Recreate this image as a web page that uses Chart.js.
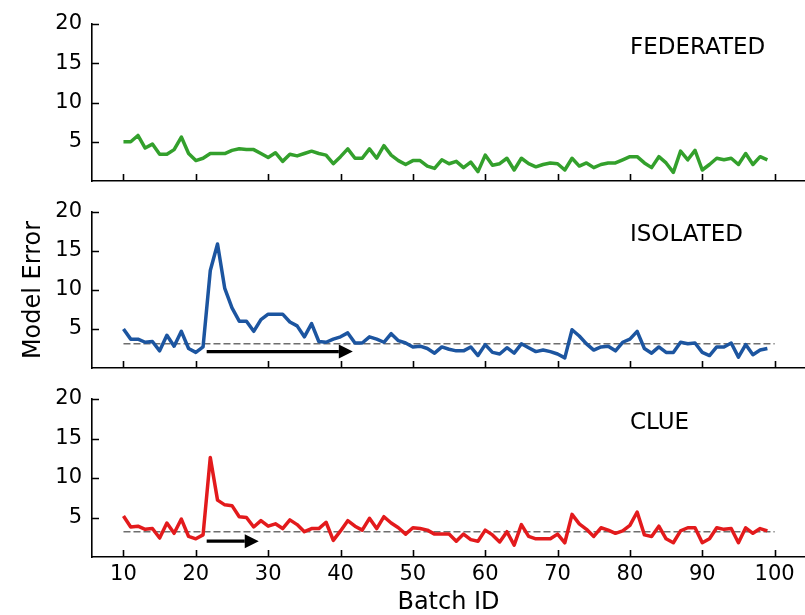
<!DOCTYPE html>
<html>
<head>
<meta charset="utf-8">
<script src="https://cdn.jsdelivr.net/npm/chart.js@4.4.1/dist/chart.umd.min.js"></script>
<style>
  html, body { margin: 0; padding: 0; background: #fff; }
  #wrap { position: relative; width: 805px; height: 615px; overflow: hidden; }
  canvas { position: absolute; left: 0; }
</style>
</head>
<body>
<div id="wrap">
  <canvas id="fed" width="805" height="190" style="top:0px"></canvas>
  <canvas id="iso" width="805" height="190" style="top:190px"></canvas>
  <canvas id="clue" width="805" height="235" style="top:380px"></canvas>
</div>
<script>
// batch ids on the x axis
const batchIds = [10, 11, 12, 13, 14, 15, 16, 17, 18, 19,
  20, 21, 22, 23, 24, 25, 26, 27, 28, 29,
  30, 31, 32, 33, 34, 35, 36, 37, 38, 39,
  40, 41, 42, 43, 44, 45, 46, 47, 48, 49,
  50, 51, 52, 53, 54, 55, 56, 57, 58, 59,
  60, 61, 62, 63, 64, 65, 66, 67, 68, 69,
  70, 71, 72, 73, 74, 75, 76, 77, 78, 79,
  80, 81, 82, 83, 84, 85, 86, 87, 88, 89,
  90, 91, 92, 93, 94, 95, 96, 97, 98, 99];

const federated = [5.0, 5.0, 5.8, 4.2, 4.7, 3.4, 3.4, 4.0, 5.6, 3.5,
  2.6, 2.9, 3.5, 3.5, 3.5, 3.9, 4.1, 4.0, 4.0, 3.5,
  3.0, 3.6, 2.5, 3.4, 3.2, 3.5, 3.8, 3.5, 3.3, 2.2,
  3.1, 4.1, 2.9, 2.9, 4.1, 2.9, 4.5, 3.3, 2.6, 2.1,
  2.6, 2.6, 1.9, 1.6, 2.7, 2.2, 2.5, 1.7, 2.4, 1.2,
  3.3, 2.0, 2.2, 2.9, 1.4, 2.9, 2.2, 1.8, 2.1, 2.3,
  2.2, 1.4, 2.9, 1.9, 2.3, 1.7, 2.1, 2.3, 2.3, 2.7,
  3.1, 3.1, 2.3, 1.7, 3.1, 2.3, 1.1, 3.8, 2.7, 3.9,
  1.4, 2.1, 2.9, 2.7, 2.9, 2.1, 3.5, 2.1, 3.1, 2.7];

const isolated = [5.0, 3.7, 3.7, 3.3, 3.4, 2.2, 4.2, 2.8, 4.7, 2.5,
  2.0, 2.7, 12.5, 15.9, 10.2, 7.7, 6.0, 6.0, 4.7, 6.2,
  6.9, 6.9, 6.9, 5.9, 5.4, 4.0, 5.7, 3.4, 3.3, 3.7,
  4.0, 4.5, 3.2, 3.2, 4.0, 3.7, 3.3, 4.4, 3.5, 3.2,
  2.7, 2.8, 2.5, 1.9, 2.7, 2.4, 2.2, 2.2, 2.7, 1.6,
  3.0, 2.0, 1.8, 2.6, 1.9, 3.1, 2.6, 2.1, 2.3, 2.1,
  1.8, 1.3, 4.9, 4.1, 3.1, 2.3, 2.7, 2.8, 2.2, 3.3,
  3.7, 4.7, 2.5, 1.9, 2.7, 2.0, 2.0, 3.3, 3.1, 3.2,
  2.0, 1.6, 2.7, 2.7, 3.2, 1.4, 3.0, 1.7, 2.3, 2.5];

const clue = [5.2, 3.8, 3.9, 3.5, 3.6, 2.4, 4.3, 3.0, 4.8, 2.6,
  2.3, 2.8, 12.6, 7.2, 6.6, 6.5, 5.1, 5.0, 3.8, 4.6,
  3.9, 4.2, 3.6, 4.7, 4.1, 3.2, 3.6, 3.6, 4.4, 2.1,
  3.3, 4.6, 3.9, 3.4, 4.9, 3.6, 5.1, 4.3, 3.7, 2.9,
  3.7, 3.6, 3.4, 2.9, 2.9, 2.9, 2.0, 2.9, 2.2, 2.0,
  3.4, 2.8, 1.9, 3.2, 1.5, 4.1, 2.6, 2.3, 2.3, 2.3,
  2.9, 1.8, 5.4, 4.2, 3.5, 2.6, 3.7, 3.4, 3.0, 3.3,
  4.0, 5.7, 2.8, 2.6, 3.9, 2.3, 1.8, 3.3, 3.7, 3.7,
  1.8, 2.3, 3.7, 3.5, 3.6, 1.8, 3.7, 3.0, 3.6, 3.3];

// dashed reference level: [x start, x end, y]
const isoLevel = [10, 100, 3.1];
const clueLevel = [10, 100, 3.2];
// arrows: [x start, x end, y]
const isoArrow = [21.5, 41.7, 2.1];
const clueArrow = [21.5, 28.7, 2.0];

const xTicks = [10, 20, 30, 40, 50, 60, 70, 80, 90, 100];
const yTicks = [5, 10, 15, 20];
const labelAt = [80, 17];

Chart.defaults.font.family = '"DejaVu Sans", sans-serif';
Chart.defaults.color = '#000';

// inward tick marks, panel name and arrow
const panelDeco = {
  id: 'panelDeco',
  afterDraw(chart, args, opts) {
    const ctx = chart.ctx;
    const x = chart.scales.x, y = chart.scales.y;
    const area = chart.chartArea;
    const tl = 7;
    ctx.save();
    ctx.strokeStyle = '#000';
    ctx.lineWidth = 1.6;
    ctx.beginPath();
    x.ticks.forEach(t => {
      const px = Math.round(x.getPixelForValue(t.value)) + 0.5;
      ctx.moveTo(px, area.bottom);
      ctx.lineTo(px, area.bottom - tl);
    });
    y.ticks.forEach(t => {
      const py = Math.round(y.getPixelForValue(t.value)) + 0.5;
      ctx.moveTo(area.left, py);
      ctx.lineTo(area.left + tl, py);
    });
    ctx.stroke();

    if (opts.arrow) {
      const x0 = x.getPixelForValue(opts.arrow[0]);
      const x1 = x.getPixelForValue(opts.arrow[1]);
      const py = y.getPixelForValue(opts.arrow[2]);
      const head = 14, half = 7;
      ctx.lineWidth = 3.2;
      ctx.beginPath();
      ctx.moveTo(x0, py);
      ctx.lineTo(x1 - head, py);
      ctx.stroke();
      ctx.fillStyle = '#000';
      ctx.beginPath();
      ctx.moveTo(x1, py);
      ctx.lineTo(x1 - head, py - half);
      ctx.lineTo(x1 - head, py + half);
      ctx.closePath();
      ctx.fill();
    }
    ctx.fillStyle = '#000';
    ctx.font = '23px "DejaVu Sans"';
    ctx.textBaseline = 'middle';
    ctx.textAlign = 'left';
    ctx.fillText(opts.label, x.getPixelForValue(labelAt[0]), y.getPixelForValue(labelAt[1]));
    ctx.restore();
  }
};

function makePanel(id, values, color, label, o) {
  const datasets = [{
    data: values,
    borderColor: color,
    borderWidth: 3.5,
    borderJoinStyle: 'round',
    pointRadius: 0,
    tension: 0,
    fill: false
  }];
  if (o.level) {
    datasets.push({
      data: [{x: o.level[0], y: o.level[2]}, {x: o.level[1], y: o.level[2]}],
      borderColor: '#6e6e6e',
      borderWidth: 1.6,
      borderDash: [7, 3],
      pointRadius: 0,
      fill: false
    });
  }
  return new Chart(document.getElementById(id), {
    type: 'line',
    data: { labels: batchIds, datasets: datasets },
    plugins: [panelDeco],
    options: {
      responsive: false,
      animation: false,
      devicePixelRatio: 1,
      layout: { padding: { top: o.top, left: 0, right: 0, bottom: 0 } },
      plugins: {
        legend: { display: false },
        tooltip: { enabled: false },
        panelDeco: { label: label, arrow: o.arrow }
      },
      scales: {
        x: {
          type: 'linear',
          min: 5.65,
          max: 104.2,
          afterBuildTicks: s => { s.ticks = xTicks.map(v => ({ value: v })); },
          afterFit: s => { s.height = o.xHeight; s.paddingLeft = 0; s.paddingRight = 0; },
          grid: { drawOnChartArea: false, drawTicks: false },
          border: { display: true, color: '#000', width: 1.6 },
          ticks: {
            display: !!o.showX,
            color: '#000',
            font: { size: 21 },
            padding: 5,
            maxRotation: 0,
            autoSkip: false
          },
          title: {
            display: !!o.showX,
            text: 'Batch ID',
            color: '#000',
            font: { size: 24, lineHeight: 1 },
            padding: { top: 0, bottom: 0 }
          }
        },
        y: {
          min: 0,
          max: 20,
          afterBuildTicks: s => { s.ticks = yTicks.map(v => ({ value: v })); },
          afterFit: s => { s.width = 92; s.paddingTop = 0; s.paddingBottom = 0; },
          grid: { drawOnChartArea: false, drawTicks: false },
          border: { display: true, color: '#000', width: 1.6 },
          ticks: { color: '#000', font: { size: 21 }, padding: 10 },
          title: {
            display: !!o.showY,
            text: 'Model Error',
            color: '#000',
            font: { size: 24, lineHeight: 1 },
            padding: { top: 22, bottom: 0 }
          }
        }
      }
    }
  });
}

makePanel('fed', federated, '#33a02c', 'FEDERATED', { top: 24, xHeight: 9 });
makePanel('iso', isolated, '#1c55a0', 'ISOLATED', { top: 22, xHeight: 12, level: isoLevel, arrow: isoArrow, showY: true });
makePanel('clue', clue, '#e31a1c', 'CLUE', { top: 19, xHeight: 58, level: clueLevel, arrow: clueArrow, showX: true });
</script>
</body>
</html>
